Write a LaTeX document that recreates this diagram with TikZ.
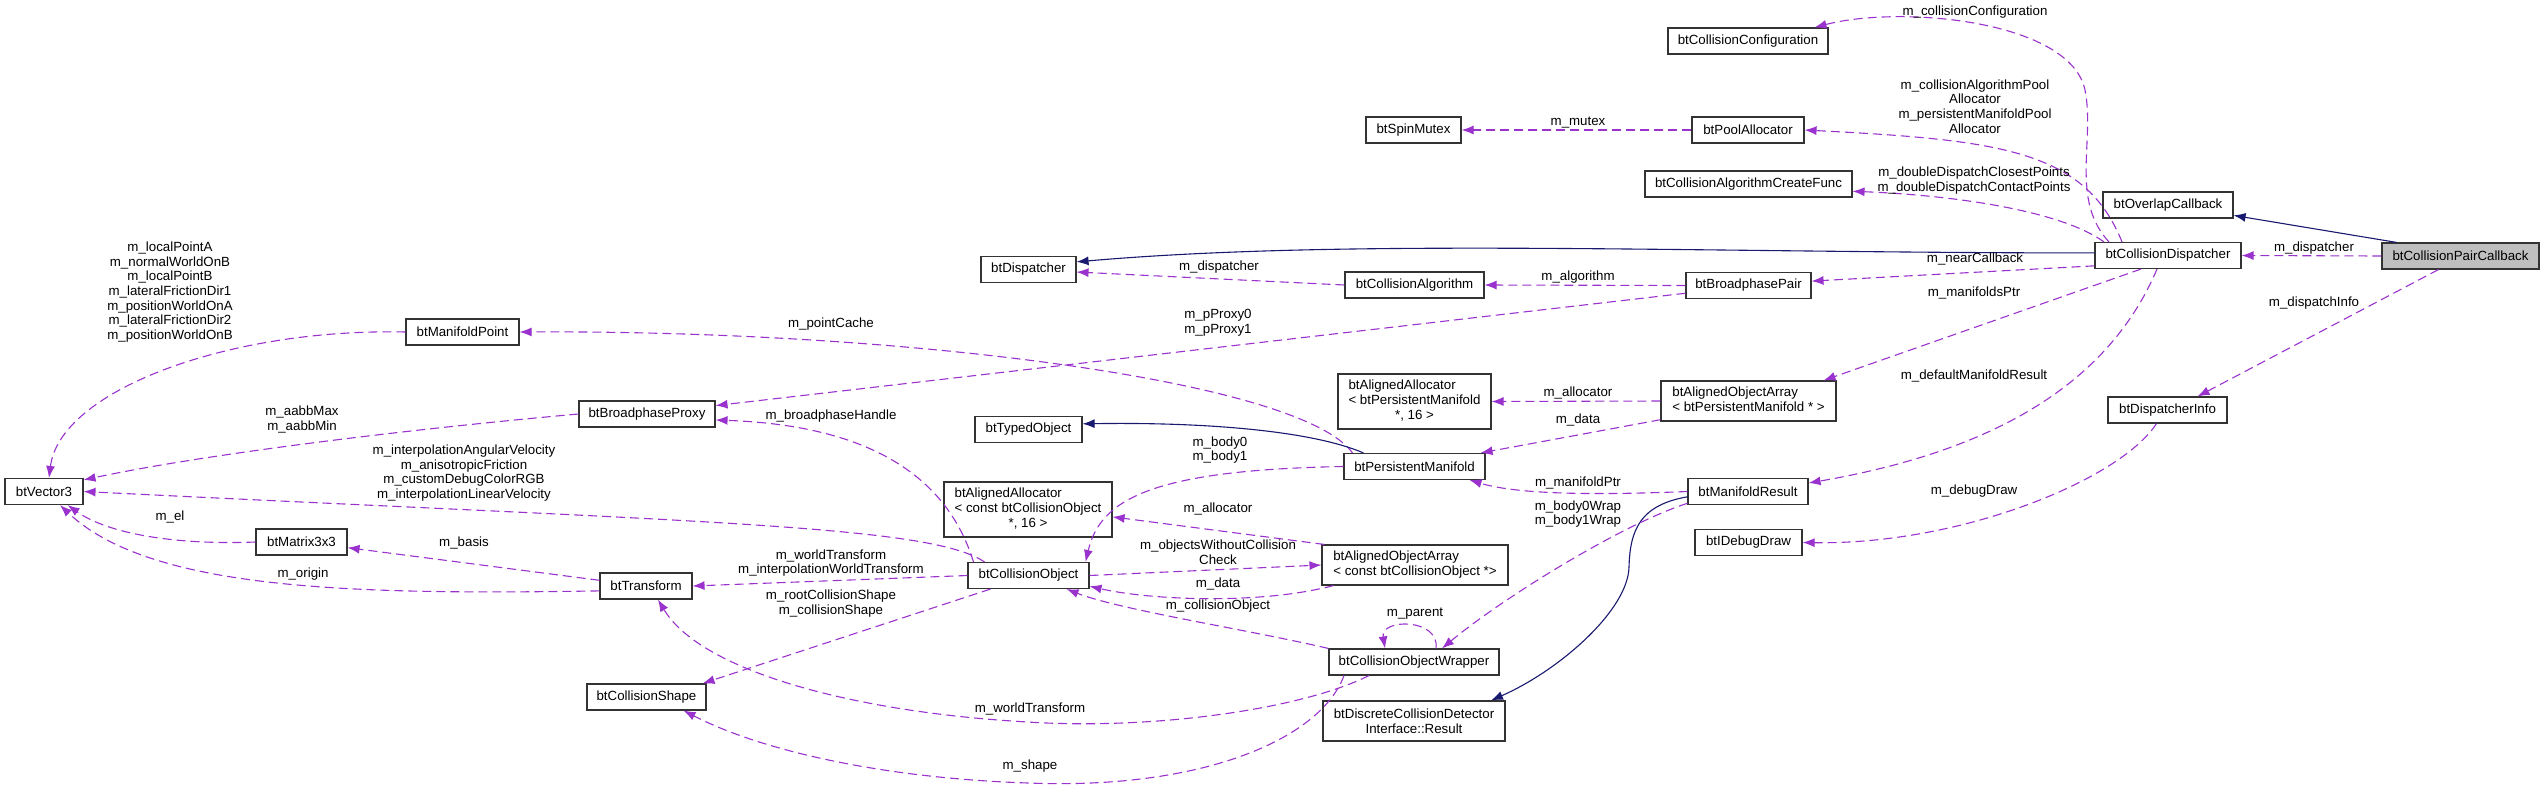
\documentclass[tikz,border=0pt]{standalone}
\usepackage{fontspec}
\setmainfont{Liberation Sans}
\usetikzlibrary{arrows.meta}
\definecolor{usecol}{HTML}{9A32CD}
\definecolor{inhcol}{HTML}{191970}
\newcommand{\dxfont}{\fontsize{13.3}{14.6}\selectfont}

\begin{document}
\begin{tikzpicture}[x=1pt,y=-1pt,
  cls/.style={draw=black!80, line width=1.1pt, rectangle, fill=white, minimum height=26pt, inner xsep=2pt, inner ysep=1pt, font=\dxfont},
  lbl/.style={font=\dxfont, align=center, inner sep=0pt},
  use/.style={draw=usecol, line width=1.1pt, dash pattern=on 9pt off 5pt, -{Latex[length=12pt,width=9pt]}},
  inh/.style={draw=inhcol, line width=1.1pt, -{Latex[length=12pt,width=9pt]}}]
\useasboundingbox (0,0) rectangle (2545,788);

\node[cls, fill=black!25, minimum width=157pt] (pcb) at (2460.5,256) {btCollisionPairCallback};
\node[cls, minimum width=130pt] (ovl) at (2168,205) {btOverlapCallback};
\node[cls, minimum width=146pt] (cdisp) at (2168,255.5) {btCollisionDispatcher};
\node[cls, minimum width=119pt] (dinfo) at (2167.5,410) {btDispatcherInfo};

\node[cls, minimum width=160pt] (cconf) at (1748,41) {btCollisionConfiguration};
\node[cls, minimum width=112pt] (pool) at (1748,130) {btPoolAllocator};
\node[cls, minimum width=207pt] (cfunc) at (1748.5,184) {btCollisionAlgorithmCreateFunc};
\node[cls, minimum width=125pt] (bpair) at (1748.5,285.5) {btBroadphasePair};
\node[cls, minimum width=175pt, minimum height=40pt] (aoapm) at (1748.5,401) {\begin{tabular}{@{}l@{}}btAlignedObjectArray\\< btPersistentManifold * >\end{tabular}};
\node[cls, minimum width=120pt] (mres) at (1748,491.5) {btManifoldResult};
\node[cls, minimum width=107pt] (ddraw) at (1748.5,542.5) {btIDebugDraw};

\node[cls, minimum width=95pt] (mutex) at (1413.5,130) {btSpinMutex};
\node[cls, minimum width=139pt] (calgo) at (1414.5,285) {btCollisionAlgorithm};
\node[cls, minimum width=153pt, minimum height=55pt] (aalpm) at (1414.5,401.5) {\begin{tabular}{@{}l@{}}btAlignedAllocator\\< btPersistentManifold\\\multicolumn{1}{@{}c@{}}{*, 16 >}\end{tabular}};
\node[cls, minimum width=141pt] (pman) at (1414.5,466.5) {btPersistentManifold};
\node[cls, minimum width=186pt, minimum height=40pt] (aoaco) at (1415,565) {\begin{tabular}{@{}l@{}}btAlignedObjectArray\\< const btCollisionObject *>\end{tabular}};
\node[cls, minimum width=170pt] (cow) at (1414,662) {btCollisionObjectWrapper};
\node[cls, minimum width=182pt, minimum height=40pt, align=center] (dres) at (1414,721) {btDiscreteCollisionDetector\\Interface::Result};

\node[cls, minimum width=95pt] (disp) at (1028.5,269.5) {btDispatcher};
\node[cls, minimum width=107pt] (typed) at (1028.5,429.5) {btTypedObject};
\node[cls, minimum width=168pt, minimum height=55pt] (aalco) at (1028,509.5) {\begin{tabular}{@{}l@{}}btAlignedAllocator\\< const btCollisionObject\\\multicolumn{1}{@{}c@{}}{*, 16 >}\end{tabular}};
\node[cls, minimum width=121pt] (cobj) at (1028.5,575.5) {btCollisionObject};

\node[cls, minimum width=113pt] (mpt) at (462.5,332) {btManifoldPoint};
\node[cls, minimum width=136pt] (bproxy) at (647,414) {btBroadphaseProxy};
\node[cls, minimum width=92pt] (trans) at (646,586) {btTransform};
\node[cls, minimum width=119pt] (cshape) at (646.5,697) {btCollisionShape};
\node[cls, minimum width=91pt] (mat) at (301.5,542) {btMatrix3x3};
\node[cls, minimum width=78pt] (vec) at (44,491.5) {btVector3};

\draw[inh] (pcb.168) -- (ovl.-9);
\draw[use] (pcb.west) -- (cdisp.east) node[lbl] (lb1) at (2314,248) {m\_dispatcher};
\draw[use] ([xshift=-22pt]pcb.south) -- ([xshift=30pt]dinfo.north) node[lbl] (lb2) at (2314,303) {m\_dispatchInfo};
\draw[use] ([xshift=-11pt]dinfo.south) .. controls (2120,480) and (1960,545) .. (ddraw.east) node[lbl] (lb3) at (1974,491) {m\_debugDraw};

\draw[inh] (cdisp.178) .. controls (1700,253) and (1350,238) .. (disp.9);
\draw[use] (cdisp.188) -- (bpair.4) node[lbl] (lb4) at (1975,259) {m\_nearCallback};
\draw[use] ([xshift=-59pt]cdisp.north) .. controls (2070,200) and (2095,140) .. (2085,90) .. controls (2070,20) and (1900,5) .. ([xshift=-14pt]cconf.north east) node[lbl] (lb5) at (1975,12) {m\_collisionConfiguration};
\draw[use] ([xshift=-46pt]cdisp.north) .. controls (2085,150) and (2000,140) .. (pool.east) node[lbl] (lb6) at (1975,106.5) {m\_collisionAlgorithmPool\\Allocator\\m\_persistentManifoldPool\\Allocator};
\draw[use] ([xshift=-64pt]cdisp.north) .. controls (2060,210) and (1950,195) .. (cfunc.-4) node[lbl] (lb7) at (1974,180.5) {m\_doubleDispatchClosestPoints\\m\_doubleDispatchContactPoints};
\draw[use] ([xshift=-27pt]cdisp.south) -- ([xshift=75pt]aoapm.north) node[lbl] (lb8) at (1974,293) {m\_manifoldsPtr};
\draw[use] ([xshift=-11pt]cdisp.south) .. controls (2110,380) and (2000,450) .. (mres.8) node[lbl] (lb9) at (1974,376) {m\_defaultManifoldResult};

\draw[use] (pool.west) -- (mutex.east) node[lbl] (lb10) at (1578,123) {m\_mutex};
\draw[use] (bpair.west) -- (calgo.east) node[lbl] (lb11) at (1578,277) {m\_algorithm};
\draw[use] (bpair.187) -- (bproxy.7) node[lbl] (lb12) at (1218,323) {m\_pProxy0\\m\_pProxy1};
\draw[use] (calgo.west) -- (disp.-3) node[lbl] (lb13) at (1219,267) {m\_dispatcher};

\draw[use] (aoapm.west) -- (aalpm.east) node[lbl] (lb14) at (1578,393) {m\_allocator};
\draw[use] (aoapm.192) -- ([xshift=-5pt]pman.north east) node[lbl] (lb15) at (1578,420) {m\_data};

\draw[use] (mres.west) .. controls (1600,495) and (1520,495) .. ([xshift=-16pt]pman.south east) node[lbl] (lb16) at (1578,483) {m\_manifoldPtr};
\draw[inh] (mres.185) .. controls (1640,505) and (1630,530) .. (1629,567) .. controls (1628,610) and (1560,670) .. ([xshift=77pt]dres.north);
\draw[use] (mres.191) .. controls (1620,525) and (1500,600) .. ([xshift=28pt]cow.north) node[lbl] (lb17) at (1578,514) {m\_body0Wrap\\m\_body1Wrap};

\draw[use] ([xshift=22pt]cow.north) .. controls (1440,618) and (1380,618) .. ([xshift=-29pt]cow.north) node[lbl] (lb18) at (1415,614) {m\_parent};
\draw[use] (cow.north west) .. controls (1250,630) and (1120,610) .. ([xshift=38pt]cobj.south) node[lbl] (lb19) at (1218,606) {m\_collisionObject};
\draw[use] ([xshift=-45pt]cow.south) .. controls (1300,710) and (1150,730) .. (1028,722) .. controls (850,712) and (700,670) .. ([xshift=12pt]trans.south) node[lbl] (lb20) at (1030,709) {m\_worldTransform};
\draw[use] ([xshift=-70pt]cow.south) .. controls (1320,740) and (1200,790) .. (1028,783) .. controls (880,778) and (760,750) .. ([xshift=37pt]cshape.south) node[lbl] (lb21) at (1030,766) {m\_shape};

\draw[use] (cobj.west) -- (trans.east) node[lbl] (lb22) at (831,563) {m\_worldTransform\\m\_interpolationWorldTransform};
\draw[use] ([xshift=-38pt]cobj.south) -- ([xshift=-4pt]cshape.north east) node[lbl] (lb23) at (831,603.5) {m\_rootCollisionShape\\m\_collisionShape};
\draw[use] ([xshift=-55pt]cobj.north) .. controls (945,470) and (860,425) .. (bproxy.-5) node[lbl] (lb24) at (831,416) {m\_broadphaseHandle};
\draw[use] ([xshift=-44pt]cobj.north) .. controls (930,525) and (700,522) .. (vec.east) node[lbl] (lb25) at (464,473) {m\_interpolationAngularVelocity\\m\_anisotropicFriction\\m\_customDebugColorRGB\\m\_interpolationLinearVelocity};
\draw[use] (cobj.east) -- (aoaco.west) node[lbl] (lb26) at (1218,552) {m\_objectsWithoutCollision\\Check};
\draw[use] ([xshift=12pt]aoaco.south west) .. controls (1260,605) and (1150,600) .. (cobj.-10) node[lbl] (lb27) at (1218,584) {m\_data};
\draw[use] ([xshift=3pt]aoaco.north west) -- (aalco.-5) node[lbl] (lb28) at (1218,509) {m\_allocator};

\draw[use] ([xshift=-62pt]pman.north) .. controls (1300,380) and (900,330) .. (mpt.east) node[lbl] (lb29) at (831,324) {m\_pointCache};
\draw[inh] ([xshift=-51pt]pman.north) .. controls (1310,430) and (1200,422) .. (typed.6);
\draw[use] (pman.west) .. controls (1150,470) and (1100,500) .. ([xshift=-4pt]cobj.north east) node[lbl] (lb30) at (1220,450) {m\_body0\\m\_body1};

\draw[use] (trans.173) -- (mat.-7) node[lbl] (lb31) at (464,543) {m\_basis};
\draw[use] (trans.186) .. controls (350,595) and (150,590) .. ([xshift=16pt]vec.south) node[lbl] (lb32) at (303,574) {m\_origin};
\draw[use] (mat.west) .. controls (180,545) and (110,535) .. ([xshift=-16pt]vec.south east) node[lbl] (lb33) at (170,517) {m\_el};
\draw[use] (mpt.west) .. controls (230,328) and (60,390) .. ([xshift=5pt]vec.north) node[lbl] (lb34) at (170,292) {m\_localPointA\\m\_normalWorldOnB\\m\_localPointB\\m\_lateralFrictionDir1\\m\_positionWorldOnA\\m\_lateralFrictionDir2\\m\_positionWorldOnB};
\draw[use] (bproxy.west) .. controls (400,430) and (200,455) .. ([yshift=-2pt]vec.north east) node[lbl] (lb35) at (302,419.5) {m\_aabbMax\\m\_aabbMin};
\end{tikzpicture}
\end{document}
